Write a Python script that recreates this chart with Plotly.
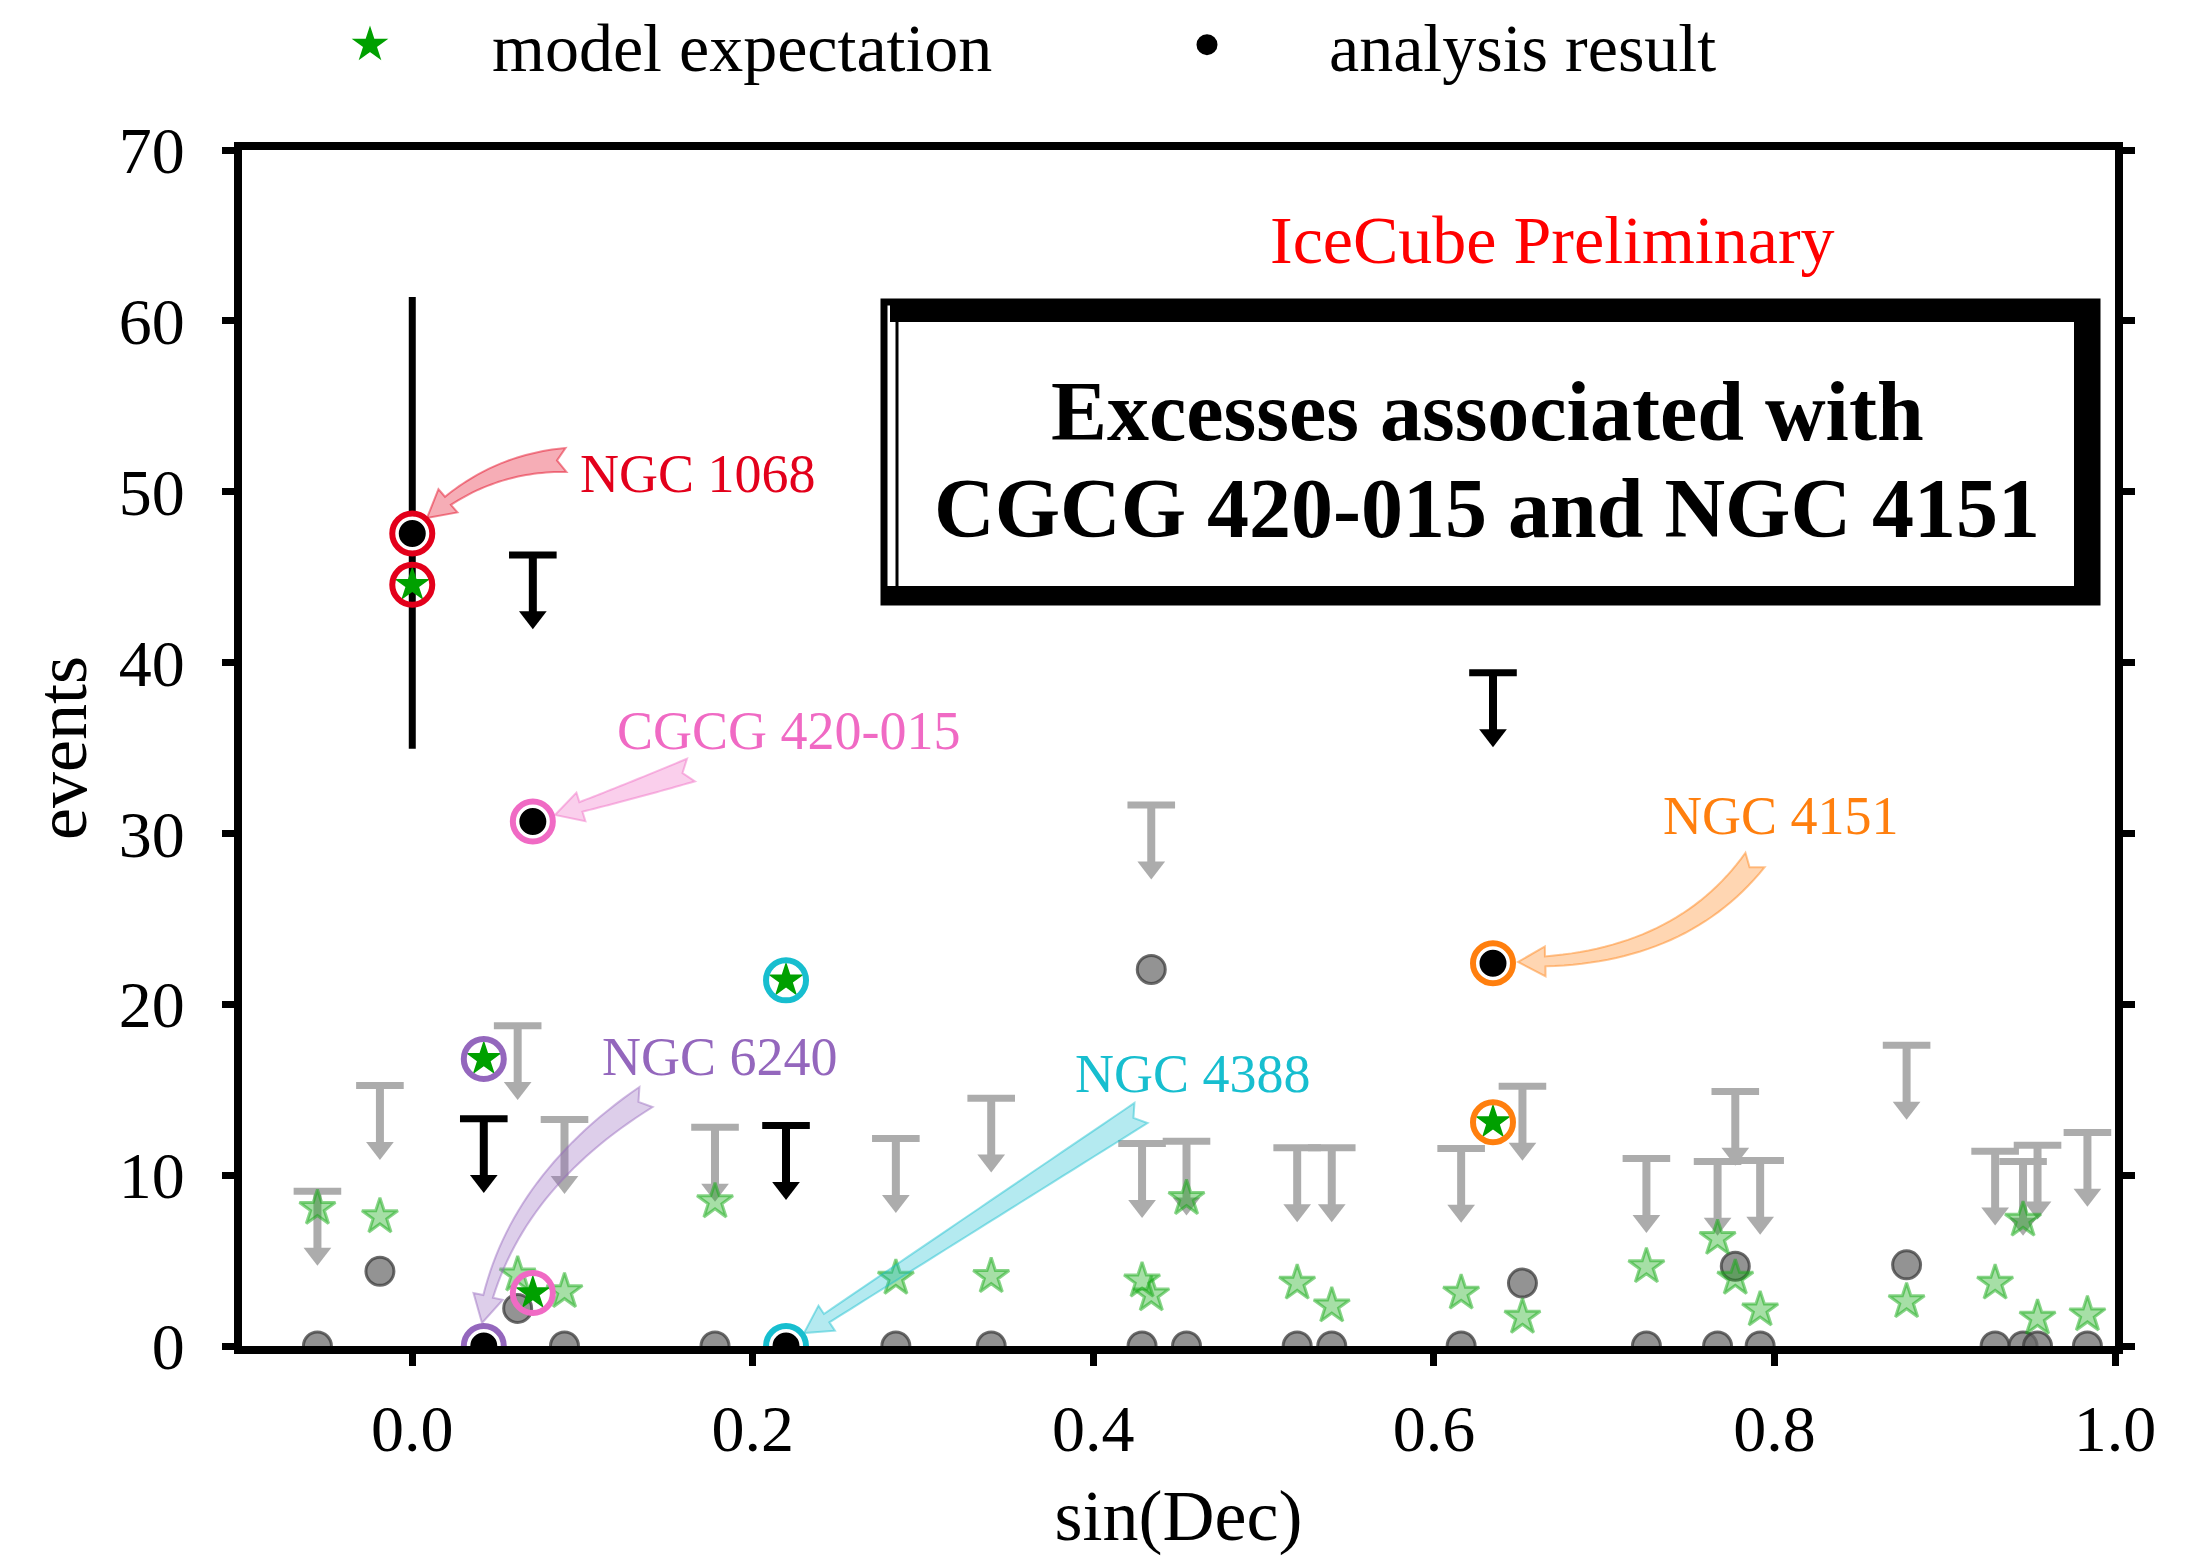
import math
import plotly.graph_objects as go

# ---------------- data ----------------
# highlighted sources
src_names = ["NGC 1068", "NGC 6240", "CGCG 420-015", "NGC 4388", "NGC 4151"]
src_sindec = [0.0, 0.042, 0.0708, 0.2195, 0.6347]
src_expect = [44.55, 16.8, 3.1, 21.4, 13.1]
src_result = [47.55, 0.0, 30.7, 0.0, 22.4]
src_colors = ["#e3001b", "#9467bd", "#f06ac4", "#17becf", "#ff7f0e"]
ngc1068_err_up = 13.85
ngc1068_err_down = 12.6
# upper limits of the highlighted sources (black)
src_ul_sindec = [0.042, 0.0708, 0.2195, 0.6347]
src_ul = [13.3, 46.3, 12.9, 39.4]

# other catalogue sources (grey)
other_sindec = [-0.0557, -0.019, 0.0619, 0.0894, 0.1778, 0.284, 0.340, 0.4286,
                0.434, 0.4547, 0.5197, 0.540, 0.616, 0.652, 0.7248, 0.7666,
                0.777, 0.7916, 0.8776, 0.9296, 0.946, 0.9545, 0.9838]
other_expect = [8.06, 7.57, 4.16, 3.19, 8.45, 3.97, 4.07, 3.81, 3.0, 8.64, 3.68,
                2.35, 3.1, 1.69, 4.65, 6.3, 3.97, 2.12, 2.6, 3.68, 7.37, 1.63, 1.83]
other_result = [0.0, 4.37, 2.2, 0.0, 0.0, 0.0, 0.0, 0.0, 22.04, 0.0, 0.0, 0.0,
                0.0, 3.68, 0.0, 0.0, 4.67, 0.0, 4.75, 0.0, 0.0, 0.0, 0.0]
other_ul = [9.05, 15.24, 18.75, 13.25, 12.8, 12.14, 14.5, 11.85, 31.66, 11.99,
            11.6, 11.6, 11.56, 15.2, 10.97, 10.8, 14.9, 10.86, 17.6, 11.4, 10.8,
            11.75, 12.5]

x_ticks = [0.0, 0.2, 0.4, 0.6, 0.8, 1.0]
y_ticks = [0, 10, 20, 30, 40, 50, 60, 70]

# ---------------- layout constants ----------------
W, H = 2209, 1559
ML, MR, MT, MB = 242, 94, 150, 213
L, R, T, B = ML, W - MR, MT, H - MB
XR = [-0.1, 1.0]
YR = [0, 70]
FONT = "Liberation Serif"
GREY = "#acacac"
GREEN = "#00a000"


def X(px):
    return XR[0] + (px - L) / (R - L) * (XR[1] - XR[0])


def Y(py):
    return YR[0] + (B - py) / (B - T) * (YR[1] - YR[0])


STEM = 3.4      # length of the upper-limit stem (in event units)
HEAD = 3.65     # offset of the arrow head marker


def ul_traces(xs, uls, color):
    sx, sy = [], []
    for x, u in zip(xs, uls):
        sx += [x, x, None]
        sy += [u, u - STEM, None]
    stems = go.Scatter(x=sx, y=sy, mode="lines", line=dict(color=color, width=8),
                       showlegend=False, hoverinfo="skip")
    caps = go.Scatter(x=xs, y=uls, mode="markers",
                      marker=dict(symbol="line-ew", size=34, color=color,
                                  line=dict(color=color, width=7)),
                      showlegend=False, hoverinfo="skip")
    heads = go.Scatter(x=xs, y=[u - HEAD for u in uls], mode="markers",
                       marker=dict(symbol="triangle-down", size=24, color=color,
                                   line=dict(width=0)),
                       showlegend=False, hoverinfo="skip")
    return [stems, caps, heads]


fig = go.Figure()

# grey upper limits
for tr in ul_traces(other_sindec, other_ul, GREY):
    fig.add_trace(tr)

# grey analysis results
fig.add_trace(go.Scatter(
    x=other_sindec, y=other_result, mode="markers", showlegend=False,
    marker=dict(symbol="circle", size=28, color="rgba(105,105,105,0.72)",
                line=dict(color="rgba(60,60,60,0.75)", width=3))))

# faded model expectations
fig.add_trace(go.Scatter(
    x=other_sindec, y=other_expect, mode="markers", showlegend=False,
    marker=dict(symbol="star", size=27, color="rgba(20,170,20,0.38)",
                line=dict(color="rgba(20,170,20,0.5)", width=3))))

# black upper limits of highlighted sources
for tr in ul_traces(src_ul_sindec, src_ul, "black"):
    fig.add_trace(tr)

# NGC 1068 error bar
fig.add_trace(go.Scatter(
    x=[src_sindec[0]], y=[src_result[0]], mode="markers", showlegend=False,
    marker=dict(size=2, color="black"),
    error_y=dict(type="data", symmetric=False, array=[ngc1068_err_up],
                 arrayminus=[ngc1068_err_down], width=0, thickness=7,
                 color="black")))

# highlighted analysis results
fig.add_trace(go.Scatter(
    x=src_sindec, y=src_result, mode="markers", name="analysis result",
    showlegend=False,
    marker=dict(symbol="circle", size=31, color="black",
                line=dict(color="white", width=4))))

# highlighted model expectations
fig.add_trace(go.Scatter(
    x=src_sindec, y=src_expect, mode="markers", name="model expectation",
    showlegend=False,
    marker=dict(symbol="star", size=27, color=GREEN, line=dict(width=0))))

# coloured rings
fig.add_trace(go.Scatter(
    x=src_sindec + src_sindec, y=src_result + src_expect, mode="markers",
    showlegend=False, hoverinfo="skip",
    marker=dict(symbol="circle-open", size=40, color=src_colors + src_colors,
                line=dict(width=6))))

# legend entries (legend symbols are capped in size, so thicken the outline)
PAD = "\u00a0" * 6
fig.add_trace(go.Scatter(
    x=[None], y=[None], mode="markers", name=PAD + "model expectation", legendrank=1,
    marker=dict(symbol="star", size=16, color=GREEN, line=dict(color=GREEN, width=5))))
fig.add_trace(go.Scatter(
    x=[None], y=[None], mode="markers", name=PAD + "analysis result", legendrank=2,
    marker=dict(symbol="circle", size=16, color="black", line=dict(color="black", width=5))))


# ---------------- curved annotation arrows ----------------
def arrow_path(p0, c, p2, wt=12, wb=5, hw=15, hl=27, notch=9):
    def bez(t):
        return ((1 - t) ** 2 * p0[0] + 2 * (1 - t) * t * c[0] + t * t * p2[0],
                (1 - t) ** 2 * p0[1] + 2 * (1 - t) * t * c[1] + t * t * p2[1])

    def der(t):
        return (2 * (1 - t) * (c[0] - p0[0]) + 2 * t * (p2[0] - c[0]),
                2 * (1 - t) * (c[1] - p0[1]) + 2 * t * (p2[1] - c[1]))

    th = 1.0
    for i in range(400, -1, -1):
        t = i / 400
        bx, by = bez(t)
        if math.hypot(bx - p2[0], by - p2[1]) >= hl:
            th = t
            break
    n = 30
    left, right = [], []
    for i in range(n + 1):
        t = th * i / n
        bx, by = bez(t)
        dx, dy = der(t)
        ln = math.hypot(dx, dy)
        nx, ny = -dy / ln, dx / ln
        w = wt + (wb - wt) * i / n
        left.append((bx + nx * w, by + ny * w))
        right.append((bx - nx * w, by - ny * w))
    bx, by = bez(th)
    dx, dy = p2[0] - bx, p2[1] - by
    ln = math.hypot(dx, dy)
    nx, ny = -dy / ln, dx / ln
    head = [(bx + nx * hw, by + ny * hw), (p2[0], p2[1]), (bx - nx * hw, by - ny * hw)]
    dx0, dy0 = der(0)
    l0 = math.hypot(dx0, dy0)
    nt = (p0[0] + dx0 / l0 * notch, p0[1] + dy0 / l0 * notch)
    pts = left + head + right[::-1] + [nt]
    return "M " + " L ".join(f"{X(px):.5f},{Y(py):.4f}" for px, py in pts) + " Z"


def rgba(hexc, a):
    h = hexc.lstrip("#")
    return f"rgba({int(h[0:2], 16)},{int(h[2:4], 16)},{int(h[4:6], 16)},{a})"


# arrow geometry in page pixels: (tail, control, tip)
arrows = {
    "NGC 1068": ((566, 460), (487, 463), (427, 518)),
    "CGCG 420-015": ((691, 770), (620, 795), (555, 815)),
    "NGC 6240": ((646, 1097), (507, 1188), (482, 1323)),
    "NGC 4388": ((1141, 1113), (972, 1223), (804, 1333)),
    "NGC 4151": ((1755, 860), (1677, 963), (1518, 962)),
}
shapes = []
for name, col in zip(src_names, src_colors):
    p0, c, p2 = arrows[name]
    shapes.append(dict(type="path", xref="x", yref="y", path=arrow_path(p0, c, p2),
                       fillcolor=rgba(col, 0.32), line=dict(color=rgba(col, 0.45), width=2),
                       layer="above"))

# grunge-like frame of the title box
frame = [
    (884, 302, 2097, 602, 7),
    (897, 318, 2078, 588, 3),
]
for x0, y0, x1, y1, lw in frame:
    shapes.append(dict(type="rect", xref="x", yref="y", x0=X(x0), x1=X(x1),
                       y0=Y(y0), y1=Y(y1), line=dict(color="black", width=lw),
                       fillcolor="rgba(0,0,0,0)", layer="above"))
for x0, y0, x1, y1 in [(890, 303, 2097, 322), (884, 586, 2097, 603), (2074, 303, 2097, 603)]:
    shapes.append(dict(type="rect", xref="x", yref="y", x0=X(x0), x1=X(x1),
                       y0=Y(y0), y1=Y(y1), line=dict(width=0),
                       fillcolor="black", layer="above"))

# ---------------- text annotations ----------------
label_pos = {
    "NGC 1068": (698, 474),
    "CGCG 420-015": (789, 731),
    "NGC 6240": (720, 1057),
    "NGC 4388": (1193, 1074),
    "NGC 4151": (1781, 816),
}
annotations = []
for name, col in zip(src_names, src_colors):
    px, py = label_pos[name]
    annotations.append(dict(x=X(px), y=Y(py), xref="x", yref="y", text=name,
                            showarrow=False, font=dict(family=FONT, size=54, color=col),
                            xanchor="center", yanchor="middle"))
annotations.append(dict(x=X(1552), y=Y(240), xref="x", yref="y", text="IceCube Preliminary",
                        showarrow=False, font=dict(family=FONT, size=68, color="#ff0000"),
                        xanchor="center", yanchor="middle"))
for txt, py in [("Excesses associated with", 411), ("CGCG 420-015 and NGC 4151", 508)]:
    annotations.append(dict(x=X(1487), y=Y(py), xref="x", yref="y",
                            text=f"<b>{txt}</b>", showarrow=False,
                            font=dict(family=FONT, size=84, color="black"),
                            xanchor="center", yanchor="middle"))

axis_common = dict(showline=True, linewidth=8, linecolor="black", ticks="outside",
                   ticklen=12, tickwidth=7, tickcolor="black", showgrid=False,
                   zeroline=False, tickfont=dict(family=FONT, size=66, color="black"))

fig.update_layout(
    width=W, height=H,
    margin=dict(l=ML, r=MR, t=MT, b=MB, autoexpand=False),
    plot_bgcolor="white", paper_bgcolor="white",
    font=dict(family=FONT, color="black", size=66),
    xaxis=dict(range=XR, tickvals=x_ticks, tickformat=".1f", mirror=True,
               ticklabelstandoff=6,
               title=dict(text="sin(Dec)", font=dict(family=FONT, size=72), standoff=28),
               **axis_common),
    yaxis=dict(range=YR, tickvals=y_ticks, mirror="ticks", ticklabelstandoff=24,
               title=dict(text="events", font=dict(family=FONT, size=72), standoff=12),
               **axis_common),
    legend=dict(orientation="h", x=(350 - L) / (R - L), y=(B - 45) / (B - T),
                xanchor="left", yanchor="middle", font=dict(family=FONT, size=68),
                bgcolor="rgba(0,0,0,0)", entrywidth=792, itemsizing="trace",
                traceorder="normal"),
    shapes=shapes,
    annotations=annotations,
    showlegend=True,
)

fig.write_html("out.html", config={"displayModeBar": False},
               post_script="document.body.style.margin='0';")
